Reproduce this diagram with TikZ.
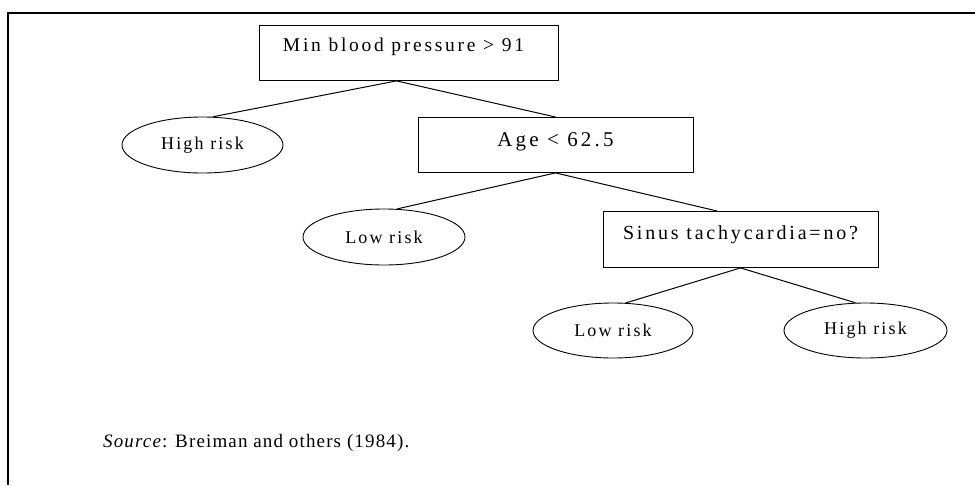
\documentclass[tikz,border=0pt]{standalone}
\usepackage{fontspec}
\setmainfont{Liberation Serif}
\newfontfamily\rootfont{Liberation Serif}[LetterSpace=14]
\newfontfamily\agefont{Liberation Serif}[LetterSpace=15]
\newfontfamily\sinfont{Liberation Serif}[LetterSpace=14]
\newfontfamily\leaffont{Liberation Serif}[LetterSpace=12]
\newfontfamily\srcfont{Liberation Serif}[LetterSpace=6]
\usetikzlibrary{shapes.geometric,calc}
\begin{document}
\begin{tikzpicture}[x=1pt,y=-1pt,
  box/.style={draw, line width=0.9pt, rectangle, inner sep=0pt, minimum width=275pt},
  leaf/.style={draw, line width=0.9pt, ellipse, inner sep=0pt, minimum width=161pt, minimum height=56pt, font=\leaffont\fontsize{18}{18}\selectfont},
  conn/.style={line width=1pt}]
\useasboundingbox (0,0) rectangle (975,485);
\draw[line width=2.6pt] (8,485) -- (8,13) -- (975,13);

\node[box, minimum width=299pt, text height=26pt, text depth=29pt, anchor=north,
  font=\rootfont\fontsize{19.5}{19.5}\selectfont] (root) at (408.5,25) {Min blood pressure > 91\hspace*{10pt}};
\node[box, text height=29pt, text depth=26pt, anchor=north,
  font=\agefont\fontsize{21}{21}\selectfont] (age) at (555.5,117) {Age < 62.5};
\node[box, minimum height=56pt, text height=28pt, text depth=28pt, anchor=north,
  font=\sinfont\fontsize{20}{20}\selectfont] (sinus) at (740.5,211) {Sinus tachycardia=no?};

\node[leaf] (hr1) at (202.5,145) {High risk};
\node[leaf, minimum width=162pt] (lr1) at (384,237) {Low risk};
\node[leaf, minimum width=160pt, minimum height=55pt] (lr2) at (613,330.5) {Low risk};
\node[leaf, minimum width=163pt, minimum height=55pt] (hr2) at (865.5,330.5) {High risk};

\coordinate (rootout) at ($(root.south west)!0.46!(root.south east)$);
\coordinate (sinusin) at ($(sinus.north west)!0.415!(sinus.north east)$);
\draw[conn] (rootout) -- (hr1.70);
\draw[conn] (rootout) -- (age.north);
\draw[conn] (age.south) -- (lr1.65);
\draw[conn] (age.south) -- (sinusin);
\draw[conn] (sinus.south) -- (lr2.65);
\draw[conn] (sinus.south) -- (hr2.110);

\node[anchor=base west, font=\srcfont\fontsize{19}{19}\selectfont, inner sep=0pt] (src) at (103,447) {\textit{Source}: Breiman and others (1984).};
\end{tikzpicture}
\end{document}
